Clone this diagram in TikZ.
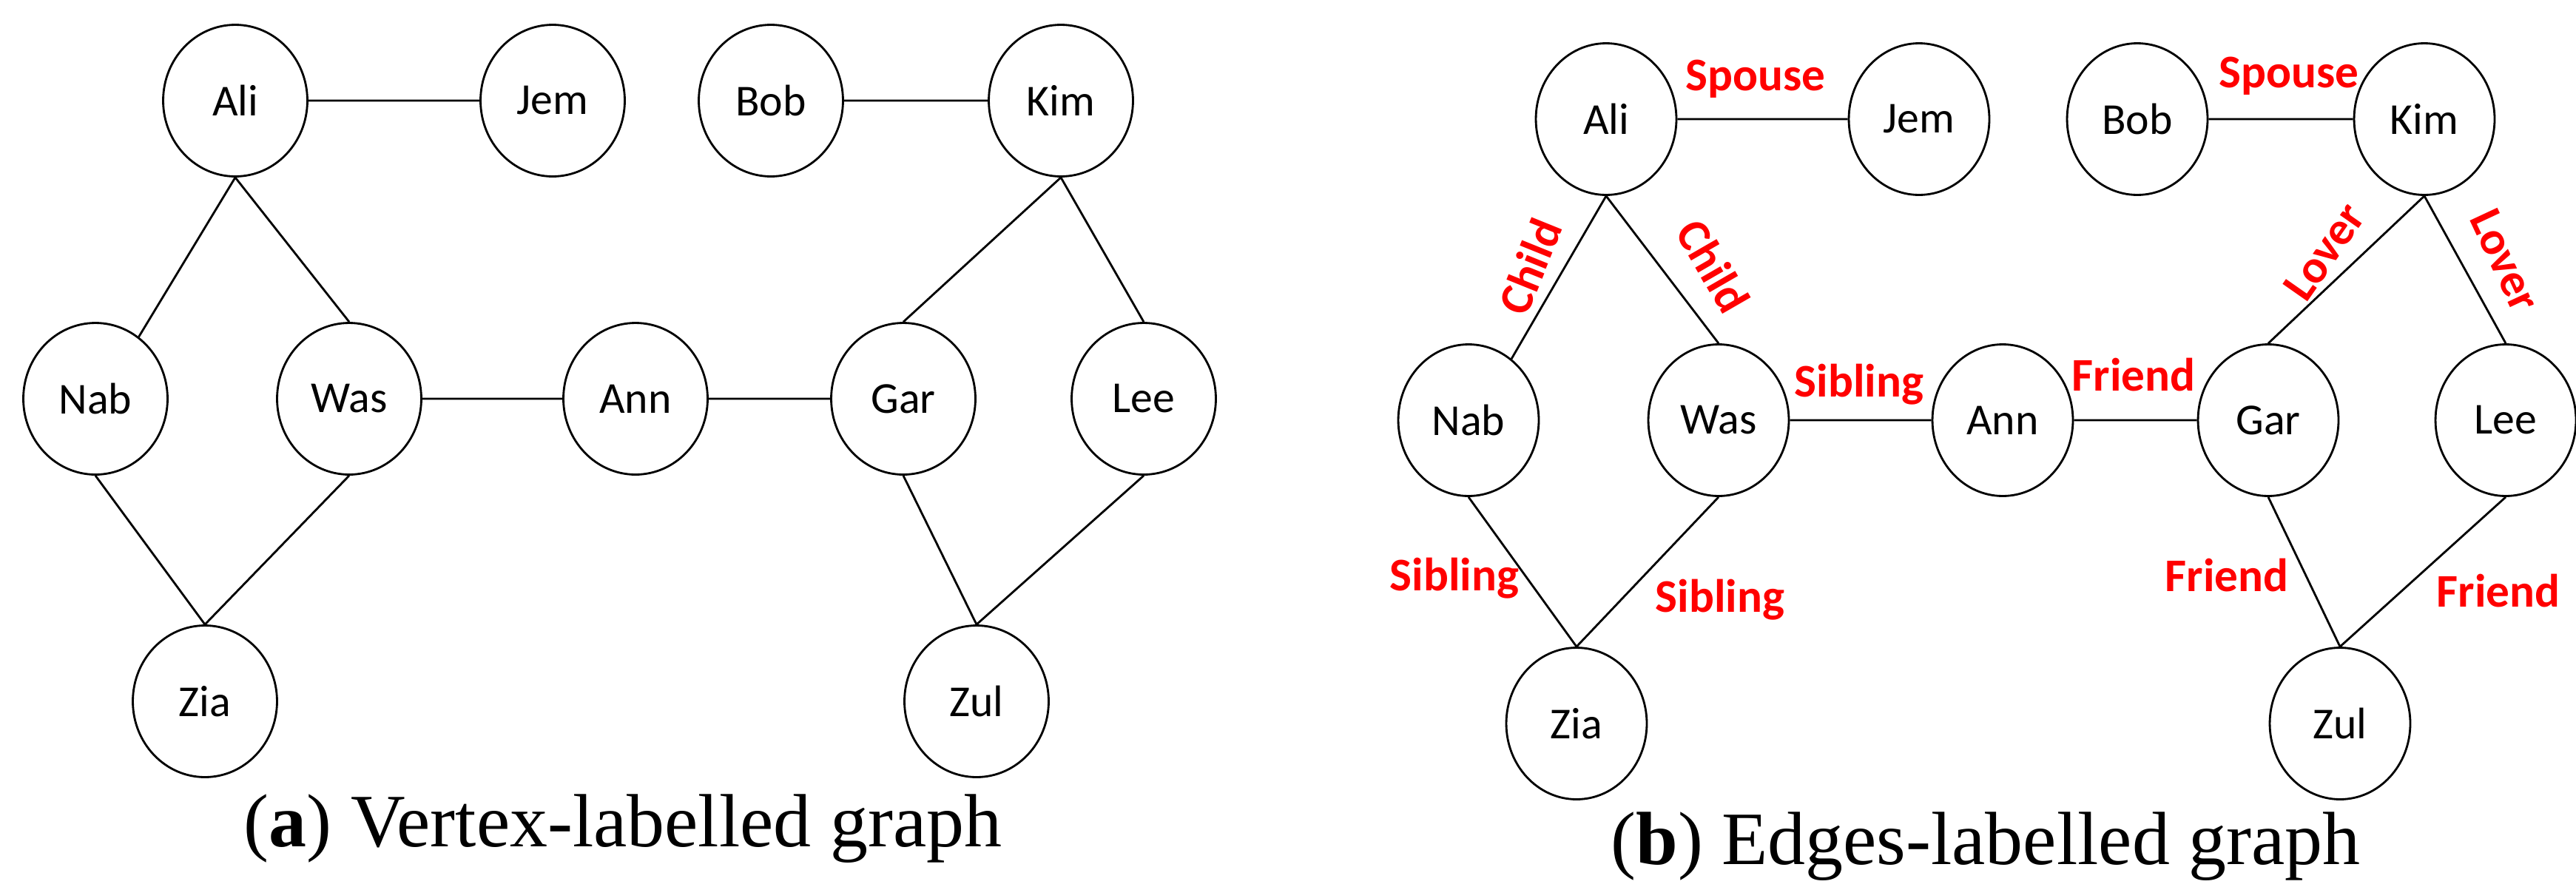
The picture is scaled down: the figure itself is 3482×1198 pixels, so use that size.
\documentclass[tikz,border=0pt]{standalone}
\usepackage{fontspec}
\setmainfont{Liberation Serif}
\newfontfamily\lab{Carlito}
\usetikzlibrary{shapes.geometric}
\begin{document}
\begin{tikzpicture}[x=0.02cm,y=-0.02cm,
  v/.style={ellipse,draw,line width=1.6pt,minimum width=3.9cm,minimum height=4.1cm,inner sep=0pt,font=\lab\fontsize{34}{40}\selectfont},
  w/.style={v,minimum width=3.8cm},
  e/.style={line width=1.6pt},
  el/.style={text=red,font=\lab\bfseries\fontsize{36}{42}\selectfont}]
\useasboundingbox (0,0) rectangle (3482,1198);
% left
\node[v] (a1) at (318,136) {Ali};
\node[v] (a2) at (747,136) {Jem};
\node[v] (a3) at (1042,136) {Bob};
\node[v] (a4) at (1434,136) {Kim};
\node[v] (a5) at (129,539) {Nab};
\node[v] (a6) at (472,539) {Was};
\node[v] (a7) at (859,539) {Ann};
\node[v] (a8) at (1221,539) {Gar};
\node[v] (a9) at (1546,539) {Lee};
\node[v] (a10) at (277,948) {Zia};
\node[v] (a11) at (1320,948) {Zul};
\draw[e] (a1)--(a2) (a3)--(a4) (a1.south)--(a5.55) (a1.south)--(a6.north) (a6)--(a7) (a7)--(a8)
  (a4.south)--(a8.north) (a4.south)--(a9.north) (a5.south)--(a10.north) (a6.south)--(a10.north)
  (a8.south)--(a11.north) (a9.south)--(a11.north);
\node (ca) at (842,1120) {\fontsize{58}{66}\selectfont(\textbf{a}) Vertex-labelled graph};
% right
\node[w] (b1) at (2171,161) {Ali};
\node[w] (b2) at (2594,161) {Jem};
\node[w] (b3) at (2889,161) {Bob};
\node[w] (b4) at (3277,161) {Kim};
\node[w] (b5) at (1985,568) {Nab};
\node[w] (b6) at (2323,568) {Was};
\node[w] (b7) at (2707,568) {Ann};
\node[w] (b8) at (3066,568) {Gar};
\node[w] (b9) at (3387,568) {Lee};
\node[w] (b10) at (2131,978) {Zia};
\node[w] (b11) at (3163,978) {Zul};
\draw[e] (b1)--(b2) (b3)--(b4) (b1.south)--(b5.55) (b1.south)--(b6.north) (b6)--(b7) (b7)--(b8)
  (b4.south)--(b8.north) (b4.south)--(b9.north) (b5.south)--(b10.north) (b6.south)--(b10.north)
  (b8.south)--(b11.north) (b9.south)--(b11.north);
\node[el] (l1) at (2373,107) {Spouse};
\node[el] (l2) at (3094,103) {Spouse};
\node[el,rotate=68] (l3) at (2068,360) {Child};
\node[el,rotate=-60] (l4) at (2316,360) {Child};
\node[el,rotate=55] (l5) at (3142,340) {Lover};
\node[el,rotate=-65] (l6) at (3386,352) {Lover};
\node[el] (l7) at (2513,520) {Sibling};
\node[el] (l8) at (2884,507) {Friend};
\node[el] (l9) at (1966,782) {Sibling};
\node[el] (l10) at (2325,811) {Sibling};
\node[el] (l11) at (3010,778) {Friend};
\node[el] (l12) at (3377,799) {Friend};
\node (cb) at (2684,1144) {\fontsize{58}{66}\selectfont(\textbf{b}) Edges-labelled graph};
\end{tikzpicture}
\end{document}
